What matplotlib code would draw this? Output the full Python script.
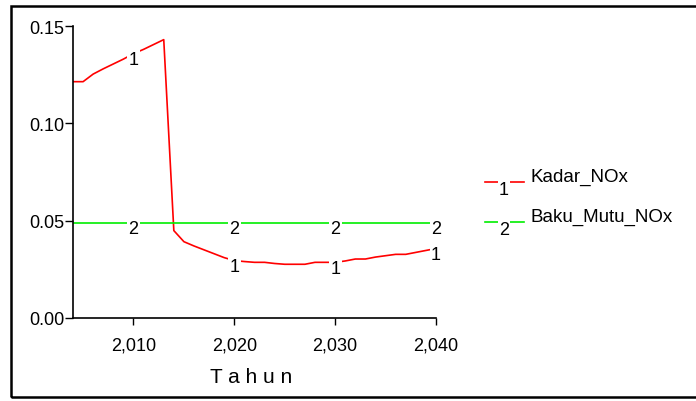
import matplotlib
matplotlib.use("Agg")
import matplotlib.pyplot as plt
from matplotlib.lines import Line2D
from matplotlib.patches import Rectangle
from matplotlib.ticker import FuncFormatter

plt.rcParams['font.family'] = ['Liberation Sans', 'DejaVu Sans']

tahun = list(range(2004, 2041))
kadar_nox = [0.1214, 0.1214, 0.1253, 0.1280, 0.1305, 0.1330, 0.1358, 0.1380,
             0.1405, 0.1430, 0.0449, 0.0392, 0.0370, 0.0350, 0.0330, 0.0310,
             0.0295, 0.0290, 0.0286, 0.0286, 0.0280, 0.0276, 0.0276, 0.0276,
             0.0286, 0.0286, 0.0286, 0.0293, 0.0303, 0.0303, 0.0313, 0.0320,
             0.0327, 0.0327, 0.0337, 0.0347, 0.0357]
baku_mutu_nox = [0.049] * len(tahun)
label_tahun = [2010, 2020, 2030, 2040]
x_ticks = [2010, 2020, 2030, 2040]
y_ticks = [0.00, 0.05, 0.10, 0.15]

RED = '#ff0000'
GREEN = '#00ee00'
W, H = 696, 402

fig = plt.figure(figsize=(6.96, 4.02), dpi=100)
ax = fig.add_axes([73 / W, 1 - 319 / H, (436 - 73) / W, (319 - 27) / H])

ax.plot(tahun, kadar_nox, color=RED, lw=1.2, zorder=2)
ax.plot(tahun, baku_mutu_nox, color=GREEN, lw=1.2, zorder=2)

# number markers on the lines
box = dict(facecolor='white', edgecolor='none', pad=1.0)
for series, num in [(kadar_nox, '1'), (baku_mutu_nox, '2')]:
    for t in label_tahun:
        v = series[tahun.index(t)]
        ax.annotate(num, (t, v), xytext=(0, 2), textcoords='offset points',
                    ha='center', va='top', fontsize=13, bbox=box,
                    zorder=3, annotation_clip=False)

ax.set_xlim(2004, 2040)
ax.set_ylim(0, 0.15)
ax.set_xticks(x_ticks)
ax.set_yticks(y_ticks)
ax.xaxis.set_major_formatter(FuncFormatter(lambda v, p: f"{v:,.0f}"))
ax.yaxis.set_major_formatter(FuncFormatter(lambda v, p: f"{v:.2f}"))
ax.tick_params(axis='x', direction='out', length=5, width=1, pad=8.5, labelsize=13)
ax.tick_params(axis='y', direction='out', length=6, width=1, pad=0, labelsize=13)
for s in ['top', 'right']:
    ax.spines[s].set_visible(False)
for s in ['left', 'bottom']:
    ax.spines[s].set_linewidth(1.2)

fig.text(251 / W, 1 - 383 / H, 'T a h u n', ha='center', va='baseline', fontsize=15)

# legend
items = [('1', 'Kadar_NOx', RED, 183), ('2', 'Baku_Mutu_NOx', GREEN, 223)]
for num, name, col, yp in items:
    fig.add_artist(Line2D([485 / W, 524 / W], [1 - yp / H, 1 - yp / H], color=col, lw=1.2))
    fig.text(504 / W, 1 - (yp - 1) / H, num, ha='center', va='top', fontsize=13, bbox=box)
    fig.text(531 / W, 1 - (yp - 1) / H, name, ha='left', va='baseline', fontsize=13.5)

# outer frame
fig.add_artist(Rectangle((11 / W, 1 - 398 / H), 1.0, (398 - 7) / H,
                         transform=fig.transFigure, fill=False,
                         edgecolor='black', lw=1.8, clip_on=False))

fig.savefig('out.png', dpi=100)
